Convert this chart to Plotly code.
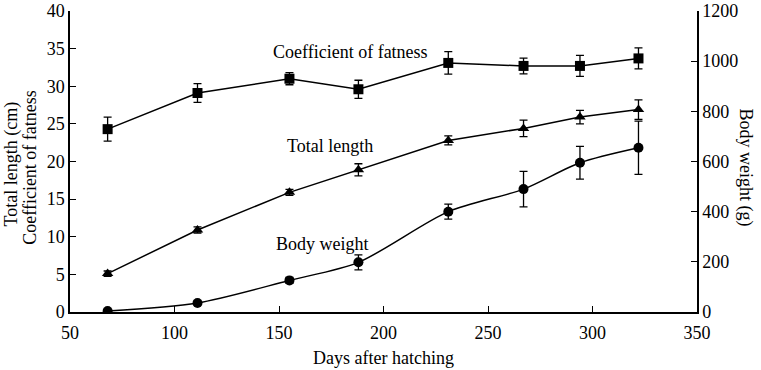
import plotly.graph_objects as go

days = [68, 111, 155, 188, 231, 267, 294, 322]

fatness = [24.3, 29.1, 31.0, 29.6, 33.1, 32.7, 32.7, 33.7]
fatness_err = [1.6, 1.25, 0.8, 1.2, 1.5, 1.05, 1.4, 1.4]

total_length = [5.1, 10.9, 15.9, 18.9, 22.8, 24.4, 25.9, 26.9]
total_length_err = [0.35, 0.4, 0.4, 0.8, 0.6, 1.1, 0.9, 1.3]

body_weight = [4, 36, 126, 198, 400, 490, 595, 655]
body_weight_err = [4, 6, 12, 30, 30, 71, 65, 106]

FONT = "Liberation Serif, Times New Roman, serif"
BLACK = "#000000"

fig = go.Figure()

fig.add_trace(go.Scatter(
    x=days, y=fatness, mode="lines+markers", name="Coefficient of fatness",
    line=dict(color=BLACK, width=1.5),
    marker=dict(symbol="square", size=10, color=BLACK),
    error_y=dict(type="data", array=fatness_err, color=BLACK, thickness=1.3, width=4),
))
fig.add_trace(go.Scatter(
    x=days, y=total_length, mode="lines+markers", name="Total length",
    line=dict(color=BLACK, width=1.5),
    marker=dict(symbol="triangle-up", size=10, color=BLACK),
    error_y=dict(type="data", array=total_length_err, color=BLACK, thickness=1.3, width=4),
))
fig.add_trace(go.Scatter(
    x=days, y=body_weight, mode="lines+markers", name="Body weight", yaxis="y2",
    line=dict(color=BLACK, width=1.5, shape="spline", smoothing=0.8),
    marker=dict(symbol="circle", size=10, color=BLACK),
    error_y=dict(type="data", array=body_weight_err, color=BLACK, thickness=1.3, width=4),
))

ann_font = dict(family=FONT, size=18, color=BLACK)
annotations = [
    dict(x=184.4, y=34.6, xref="x", yref="y", text="Coefficient of fatness", showarrow=False, font=ann_font),
    dict(x=174.4, y=22.0, xref="x", yref="y", text="Total length", showarrow=False, font=ann_font),
    dict(x=170.6, y=9.0, xref="x", yref="y", text="Body weight", showarrow=False, font=ann_font),
    dict(x=-0.094, y=0.49, xref="paper", yref="paper", text="Total length (cm)",
         showarrow=False, textangle=-90, font=ann_font, xanchor="center", yanchor="middle"),
    dict(x=-0.065, y=0.48, xref="paper", yref="paper", text="Coefficient of fatness",
         showarrow=False, textangle=-90, font=ann_font, xanchor="center", yanchor="middle"),
    dict(x=1.0766, y=0.48, xref="paper", yref="paper", text="Body weight (g)",
         showarrow=False, textangle=90, font=ann_font, xanchor="center", yanchor="middle"),
    dict(x=0.5, y=-0.153, xref="paper", yref="paper", text="Days after hatching",
         showarrow=False, font=ann_font, xanchor="center", yanchor="middle"),
]

axis_common = dict(
    showgrid=False, zeroline=False, showline=True, linecolor=BLACK, linewidth=1.5,
    ticks="inside", ticklen=6, tickwidth=1.2, tickcolor=BLACK, automargin=False,
    tickfont=dict(family=FONT, size=18, color=BLACK),
)

fig.update_layout(
    width=761, height=370,
    margin=dict(l=70, r=64, t=11, b=58),
    paper_bgcolor="white", plot_bgcolor="white",
    showlegend=False,
    font=dict(family=FONT, size=18, color=BLACK),
    xaxis=dict(range=[50, 350], dtick=50, tick0=50, ticklabelstandoff=4, **axis_common),
    yaxis=dict(range=[0, 40], dtick=5, **axis_common),
    yaxis2=dict(range=[0, 1200], dtick=200, overlaying="y", side="right", **axis_common),
    annotations=annotations,
)

fig.write_html("out.html", config={"displayModeBar": False},
               post_script="document.body.style.margin='0';")
